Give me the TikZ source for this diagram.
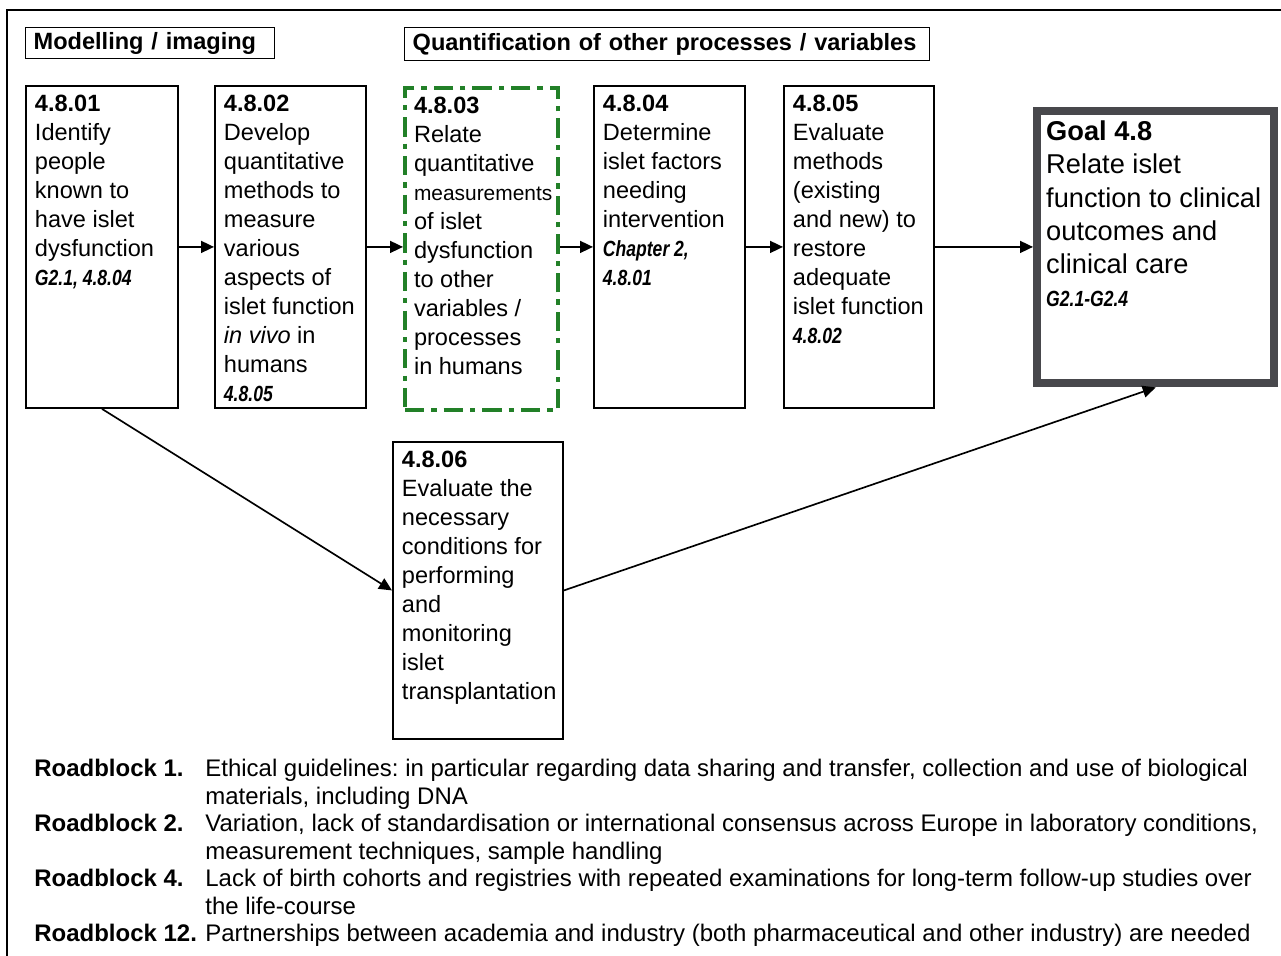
\documentclass[tikz,border=0pt]{standalone}
\usepackage{fontspec}
\setmainfont{Liberation Sans}
\newfontfamily\reffont[FakeStretch=0.8]{Liberation Sans}
\usepackage{xcolor}
\usetikzlibrary{positioning,arrows.meta}
\definecolor{dashgreen}{RGB}{34,128,40}
\definecolor{goalgrey}{RGB}{72,72,76}
\newcommand{\refs}[1]{{\reffont\fontsize{12.5}{14.5}\selectfont\bfseries\itshape #1}}
\frenchspacing

\begin{document}
\begin{tikzpicture}[x=0.02cm, y=-0.02cm,
    every node/.style={font=\fontsize{13.4}{16.5}\selectfont},
    hdr/.style={draw, line width=0.8pt, anchor=north west, inner xsep=0.16cm, inner ysep=0pt, minimum height=0.62cm, align=left},
    stepbox/.style={draw, line width=1.1pt, anchor=north west, inner xsep=0.18cm, inner ysep=0.18cm},
    greenbox/.style={stepbox, draw=dashgreen, line width=2.3pt, dash pattern=on 11pt off 4pt on 3pt off 4pt},
    goalbox/.style={stepbox, draw=goalgrey, line width=4.8pt, inner ysep=0.2cm},
    flow/.style={-{Triangle[length=0.26cm,width=0.24cm]}, line width=0.95pt},
    rblabel/.style={anchor=base west, inner sep=0pt, font=\fontsize{13.65}{15.6}\selectfont\bfseries},
    rbtext/.style={anchor=base west, inner sep=0pt, font=\fontsize{13.65}{15.6}\selectfont}]
    \useasboundingbox (0,0) rectangle (1281,956);

    % frame
    \draw[line width=1.6pt] (7,956) -- (7,10) -- (1281,10);

    % headings
    \node[hdr, text width=4.66cm] (model) at (25,27) {\bfseries Modelling / imaging};
    \node[hdr, text width=10.18cm, minimum height=0.66cm] (quant) at (404,27) {\bfseries Quantification of other processes / variables};

    % steps
    \node[stepbox] (s1) at (25,85) {\parbox[t][6.08cm][t]{2.68cm}{\textbf{4.8.01}\\Identify\\people\\known to\\have islet\\dysfunction\\\refs{G2.1, 4.8.04}}};
    \node[stepbox] (s2) at (214,85) {\parbox[t][6.08cm][t]{2.66cm}{\textbf{4.8.02}\\Develop\\quantitative\\methods to\\measure\\various\\aspects of\\islet function\\\textit{in vivo} in\\humans\\\refs{4.8.05}}};
    \node[greenbox] (s3) at (403,86) {\parbox[t][6.08cm][t]{2.7cm}{\textbf{4.8.03}\\Relate\\quantitative\\{\fontsize{11.9}{16.5}\selectfont measurements}\\of islet\\dysfunction\\to other\\variables /\\processes\\in humans}};
    \node[stepbox] (s4) at (593,85) {\parbox[t][6.08cm][t]{2.66cm}{\textbf{4.8.04}\\Determine\\islet factors\\needing\\intervention\\\refs{Chapter 2,}\\\refs{4.8.01}}};
    \node[stepbox] (s5) at (783,85) {\parbox[t][6.08cm][t]{2.64cm}{\textbf{4.8.05}\\Evaluate\\methods\\(existing\\and new) to\\restore\\adequate\\islet function\\\refs{4.8.02}}};
    \node[goalbox] (goal) at (1033,107) {\parbox[t][5.04cm][t]{4.38cm}{\fontsize{15.5}{18.8}\selectfont\textbf{Goal 4.8}\\Relate islet\\function to clinical\\outcomes and\\clinical care\\\refs{G2.1-G2.4}}};
    \node[stepbox] (s6) at (392,441) {\parbox[t][5.58cm][t]{3.04cm}{\textbf{4.8.06}\\Evaluate the\\necessary\\conditions for\\performing\\and\\monitoring\\islet\\transplantation}};

    % arrows
    \draw[flow] (s1.east) -- (s2.west);
    \draw[flow] (s2.east) -- (s2.east -| s3.west);
    \draw[flow] (s3.east |- s4.west) -- (s4.west);
    \draw[flow] (s4.east) -- (s5.west);
    \draw[flow] (s5.east) -- (s5.east -| goal.west);
    \draw[flow] (s1.south) -- (s6.west);
    \draw[flow] (s6.east) -- (goal.south);

    % roadblocks
    \node[rblabel] (rb1) at (34,776) {Roadblock 1.};
    \node[rbtext] (rb1a) at (205,776) {Ethical guidelines: in particular regarding data sharing and transfer, collection and use of biological};
    \node[rbtext] (rb1b) at (205,804) {materials, including DNA};
    \node[rblabel] (rb2) at (34,831) {Roadblock 2.};
    \node[rbtext] (rb2a) at (205,831) {Variation, lack of standardisation or international consensus across Europe in laboratory conditions,};
    \node[rbtext] (rb2b) at (205,859) {measurement techniques, sample handling};
    \node[rblabel] (rb4) at (34,886) {Roadblock 4.};
    \node[rbtext] (rb4a) at (205,886) {Lack of birth cohorts and registries with repeated examinations for long-term follow-up studies over};
    \node[rbtext] (rb4b) at (205,914) {the life-course};
    \node[rblabel] (rb12) at (34,941) {Roadblock 12.};
    \node[rbtext] (rb12a) at (205,941) {Partnerships between academia and industry (both pharmaceutical and other industry) are needed};
\end{tikzpicture}
\end{document}
